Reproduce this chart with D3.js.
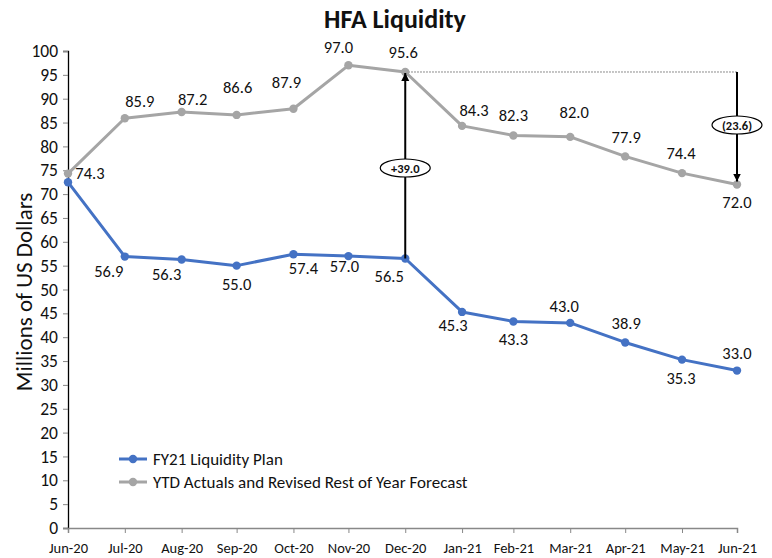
<!doctype html>
<html>
<head>
  <meta charset="UTF-8">
  <title>HFA Liquidity</title>
  <script src="https://cdn.jsdelivr.net/npm/d3@7"></script>
  <style>
    body { margin: 0; background: #fff; }
    text { font-family: Carlito, Calibri, Lato, sans-serif; fill: #111; }
  </style>
</head>
<body>
<script>
  // data
  var months = ["2020-06-30", "2020-07-31", "2020-08-31", "2020-09-30", "2020-10-31", "2020-11-30",
    "2020-12-31", "2021-01-31", "2021-02-28", "2021-03-31", "2021-04-30", "2021-05-31", "2021-06-30"];
  var monthLabels = ["Jun-20", "Jul-20", "Aug-20", "Sep-20", "Oct-20", "Nov-20", "Dec-20",
    "Jan-21", "Feb-21", "Mar-21", "Apr-21", "May-21", "Jun-21"];
  var planValues = [72.5, 56.9, 56.3, 55.0, 57.4, 57.0, 56.5, 45.3, 43.3, 43.0, 38.9, 35.3, 33.0];
  var actualValues = [74.3, 85.9, 87.2, 86.6, 87.9, 97.0, 95.6, 84.3, 82.3, 82.0, 77.9, 74.4, 72.0];
  var seriesNames = ["FY21 Liquidity Plan", "YTD Actuals and Revised Rest of Year Forecast"];
  var gapLabels = ["+39.0", "(23.6)"];
  var yTicks = d3.range(0, 101, 5);

  (function() {
    // label placement (dx, dy from the point), as in the original
    var planLabelPos = [null, [-16, 14], [-15, 15], [0, 18], [10, 14], [-4, 10], [-16, 18],
      [-9, 13], [0, 18], [-6, -17], [1, -19], [-1, 18], [0, -18]];
    var actualLabelPos = [[22, -1], [15, -17], [11, -13], [1, -28], [-7, -27], [-10, -18], [-2, -20],
      [12, -16], [0, -20], [4, -25], [1, -19], [-1, -20], [0, 17]];

    var W = 772, H = 558;
    var pl = 68, pr = 737, pt = 51, pb = 528;
    var blue = "#4472C4", grey = "#A5A5A5";
    var font = "Carlito, Calibri, Lato, sans-serif";
    var parse = d3.timeParse("%Y-%m-%d");
    var dates = months.map(parse);

    var svg = d3.select("body").append("svg")
      .attr("width", W).attr("height", H);

    svg.append("defs").append("marker")
      .attr("id", "arrow")
      .attr("viewBox", "0 0 10 10")
      .attr("refX", 10).attr("refY", 5)
      .attr("markerWidth", 4).attr("markerHeight", 4.5)
      .attr("markerUnits", "strokeWidth")
      .attr("orient", "auto")
      .append("path").attr("d", "M0,0L10,5L0,10z").attr("fill", "#000");

    var x = d3.scaleTime().domain(d3.extent(dates)).range([pl, pr]);
    var y = d3.scaleLinear().domain([0, 100]).range([pb, pt]);

    // title
    svg.append("text")
      .attr("x", 395).attr("y", 28)
      .attr("text-anchor", "middle")
      .style("font-size", "26px").style("font-weight", "bold")
      .text("HFA Liquidity");

    // y axis title
    svg.append("text")
      .attr("transform", "translate(32,292) rotate(-90)")
      .attr("text-anchor", "middle")
      .style("font-size", "23px")
      .text("Millions of US Dollars");

    // y axis
    var yAxis = svg.append("g")
      .attr("transform", "translate(" + pl + ",0)")
      .call(d3.axisLeft(y).tickValues(yTicks).tickSize(5).tickPadding(5));
    yAxis.select(".domain").attr("stroke", "#000").attr("stroke-width", 1.3);
    yAxis.selectAll(".tick line").attr("stroke", "#888");
    yAxis.selectAll(".tick text").style("font-size", "17.5px").attr("fill", "#111")
      .style("font-family", font);

    // x axis
    var xAxis = svg.append("g")
      .attr("transform", "translate(0," + pb + ")")
      .call(d3.axisBottom(x).tickValues(dates).tickSize(5).tickPadding(10)
        .tickFormat(function(d, i) { return monthLabels[i]; }));
    xAxis.select(".domain").attr("stroke", "#888").attr("stroke-width", 1.5);
    xAxis.selectAll(".tick line").attr("stroke", "#888");
    xAxis.selectAll(".tick text").style("font-size", "14.5px").attr("fill", "#111")
      .style("font-family", font);

    // dotted reference line from Dec-20 actual
    svg.append("line")
      .attr("x1", x(dates[6])).attr("x2", x(dates[12]))
      .attr("y1", y(actualValues[6])).attr("y2", y(actualValues[6]))
      .attr("stroke", "#666").attr("stroke-width", 1)
      .attr("stroke-dasharray", "1.5,1.5");

    var line = d3.line()
      .x(function(d, i) { return x(dates[i]); })
      .y(function(d) { return y(d); });

    function drawSeries(values, color) {
      svg.append("path")
        .datum(values)
        .attr("d", line)
        .attr("fill", "none")
        .attr("stroke", color)
        .attr("stroke-width", 3)
        .attr("stroke-linejoin", "round");
      svg.append("g").selectAll("circle")
        .data(values).enter().append("circle")
        .attr("cx", function(d, i) { return x(dates[i]); })
        .attr("cy", function(d) { return y(d); })
        .attr("r", 4.2)
        .attr("fill", color);
    }
    drawSeries(actualValues, grey);
    drawSeries(planValues, blue);

    function drawLabels(values, pos) {
      var pts = values.map(function(v, i) { return { v: v, i: i }; })
        .filter(function(p) { return pos[p.i] != null; });
      svg.append("g").selectAll("text")
        .data(pts).enter().append("text")
        .attr("x", function(p) { return x(dates[p.i]) + pos[p.i][0]; })
        .attr("y", function(p) { return y(p.v) + pos[p.i][1]; })
        .attr("text-anchor", "middle")
        .attr("dominant-baseline", "central")
        .style("font-size", "16.5px")
        .text(function(p) { return p.v.toFixed(1); });
    }
    drawLabels(planValues, planLabelPos);
    drawLabels(actualValues, actualLabelPos);

    // difference arrows
    svg.append("line")
      .attr("x1", x(dates[6])).attr("x2", x(dates[6]))
      .attr("y1", y(planValues[6])).attr("y2", y(actualValues[6]) + 1)
      .attr("stroke", "#000").attr("stroke-width", 2)
      .attr("marker-end", "url(#arrow)");
    svg.append("line")
      .attr("x1", x(dates[12])).attr("x2", x(dates[12]))
      .attr("y1", y(actualValues[6])).attr("y2", y(actualValues[12]) - 3)
      .attr("stroke", "#000").attr("stroke-width", 2)
      .attr("marker-end", "url(#arrow)");

    function bubble(cx, cy, label) {
      var g = svg.append("g");
      g.append("ellipse")
        .attr("cx", cx).attr("cy", cy).attr("rx", 25).attr("ry", 9)
        .attr("fill", "#fff").attr("stroke", "#000").attr("stroke-width", 1.2);
      g.append("text")
        .attr("x", cx).attr("y", cy)
        .attr("text-anchor", "middle").attr("dominant-baseline", "central")
        .style("font-size", "12.5px").style("font-weight", "bold")
        .text(label);
    }
    bubble(x(dates[6]), 168, gapLabels[0]);
    bubble(x(dates[12]), 125, gapLabels[1]);

    // legend
    var legend = svg.append("g").attr("transform", "translate(119,459)");
    [blue, grey].forEach(function(c, i) {
      var row = legend.append("g").attr("transform", "translate(0," + (i * 23) + ")");
      row.append("line").attr("x1", 0).attr("x2", 28).attr("y1", 0).attr("y2", 0)
        .attr("stroke", c).attr("stroke-width", 3);
      row.append("circle").attr("cx", 14).attr("cy", 0).attr("r", 4.2).attr("fill", c);
      row.append("text").attr("x", 34).attr("y", 0)
        .attr("dominant-baseline", "central")
        .style("font-size", "17px")
        .text(seriesNames[i]);
    });
  })();
</script>
</body>
</html>
